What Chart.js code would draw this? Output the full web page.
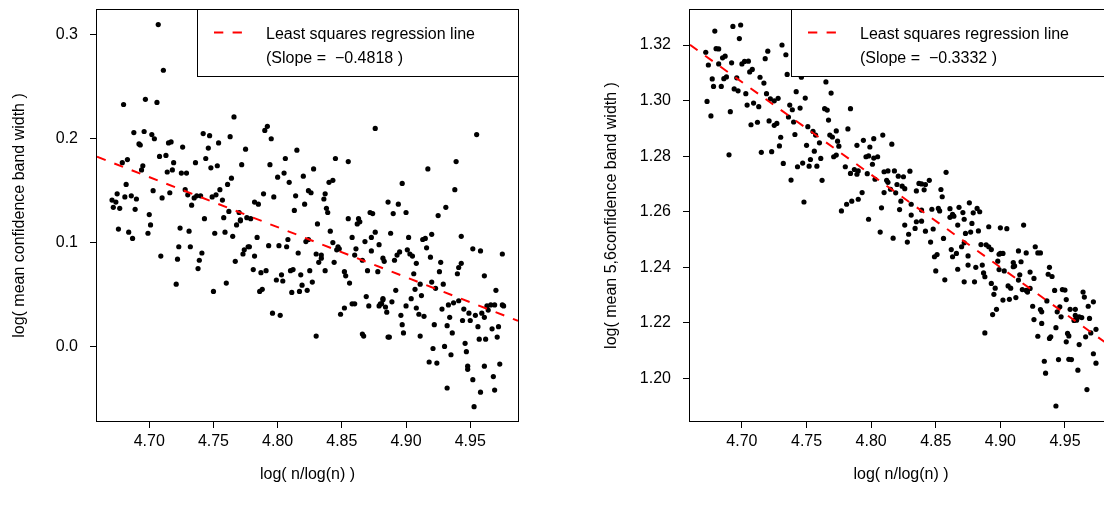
<!DOCTYPE html>
<html><head><meta charset="utf-8">
<script src="https://cdn.jsdelivr.net/npm/chart.js@4/dist/chart.umd.min.js"></script>
<style>
html,body{margin:0;padding:0;background:#fff;overflow:hidden;width:1104px;height:512px;}
#c1{position:absolute;left:0;top:0;}
#c2{position:absolute;left:552px;top:0;}
</style></head><body>
<canvas id="c1" width="552" height="512"></canvas>
<canvas id="c2" width="600" height="512"></canvas>
<script>
// ---------- data ----------
const xTickValues = [4.70, 4.75, 4.80, 4.85, 4.90, 4.95];
const leftYTicks = [0.0, 0.1, 0.2, 0.3];
const rightYTicks = [1.20, 1.22, 1.24, 1.26, 1.28, 1.30, 1.32];
const xTitle = "log( n/log(n) )";
const leftYTitle = "log( mean confidence band width )";
const rightYTitle = "log( mean 5,6confidence band width )";
const legendLine1 = "Least squares regression line";
const leftSlopeText = "(Slope =  \u22120.4818 )";
const rightSlopeText = "(Slope =  \u22120.3332 )";
const leftSlope = -0.4818, leftIntercept = 2.4275;
const rightSlope = -0.3332, rightIntercept = 2.8727;
const leftXRange = [4.6593, 4.9872], leftYRange = [-0.0718, 0.3240];
const rightXRange = [4.6598, 4.9864], rightYRange = [1.1847, 1.3326];

const leftPoints = [
[4.707,0.310],[4.711,0.266],[4.680,0.233],[4.697,0.238],[4.706,0.235],[4.766,0.221],[4.688,0.206],[4.696,0.207],[4.702,0.204],[4.704,0.200],
[4.692,0.195],[4.693,0.194],[4.715,0.196],[4.717,0.197],[4.726,0.192],[4.742,0.205],[4.747,0.203],[4.746,0.191],[4.754,0.196],[4.763,0.202],
[4.775,0.190],[4.683,0.180],[4.679,0.177],[4.708,0.183],[4.713,0.184],[4.719,0.177],[4.736,0.177],[4.744,0.181],[4.695,0.174],[4.694,0.170],
[4.714,0.168],[4.718,0.170],[4.725,0.167],[4.729,0.167],[4.748,0.172],[4.753,0.174],[4.772,0.175],[4.764,0.162],[4.761,0.156],[4.682,0.156],
[4.675,0.147],[4.703,0.150],[4.716,0.148],[4.728,0.151],[4.681,0.144],[4.686,0.145],[4.690,0.142],[4.671,0.141],[4.674,0.139],[4.672,0.134],
[4.677,0.133],[4.689,0.132],[4.700,0.127],[4.710,0.143],[4.730,0.146],[4.733,0.136],[4.735,0.143],[4.737,0.145],[4.740,0.145],[4.749,0.144],
[4.752,0.146],[4.755,0.151],[4.757,0.141],[4.743,0.123],[4.758,0.124],[4.762,0.130],[4.770,0.129],[4.776,0.124],[4.771,0.122],
[4.676,0.113],[4.684,0.110],[4.687,0.104],[4.699,0.109],[4.701,0.117],[4.724,0.114],[4.731,0.111],[4.723,0.096],[4.732,0.096],[4.709,0.087],
[4.722,0.084],[4.741,0.090],[4.739,0.083],[4.738,0.075],[4.721,0.060],[4.750,0.053],[4.760,0.061],[4.751,0.109],[4.759,0.110],[4.765,0.106],
[4.768,0.117],[4.771,0.121],[4.777,0.096],[4.774,0.093],[4.773,0.089],[4.767,0.082],
[4.792,0.212],[4.790,0.208],[4.795,0.200],[4.876,0.210],[4.815,0.189],[4.806,0.181],[4.794,0.175],[4.845,0.181],[4.855,0.178],[4.805,0.167],
[4.800,0.163],[4.809,0.158],[4.820,0.164],[4.828,0.171],[4.843,0.160],[4.840,0.158],[4.789,0.147],[4.797,0.144],[4.782,0.139],[4.785,0.137],
[4.814,0.145],[4.824,0.150],[4.826,0.148],[4.837,0.147],[4.836,0.142],[4.821,0.137],[4.813,0.131],[4.838,0.133],[4.839,0.129],[4.872,0.129],
[4.874,0.128],[4.886,0.139],[4.855,0.123],[4.863,0.123],
[4.831,0.118],[4.862,0.118],[4.864,0.120],[4.779,0.123],[4.784,0.105],[4.778,0.096],[4.782,0.087],[4.793,0.097],[4.801,0.097],[4.807,0.096],
[4.808,0.103],[4.816,0.090],[4.822,0.101],[4.824,0.103],[4.830,0.089],[4.834,0.088],[4.834,0.085],[4.832,0.081],[4.841,0.111],[4.843,0.100],
[4.847,0.096],[4.848,0.094],[4.846,0.093],[4.844,0.081],[4.858,0.105],[4.861,0.094],[4.860,0.088],[4.868,0.101],[4.873,0.105],[4.876,0.110],
[4.873,0.092],[4.879,0.098],[4.882,0.085],[4.883,0.082],[4.866,0.083],[4.781,0.074],[4.787,0.071],[4.791,0.073],[4.799,0.064],[4.803,0.069],
[4.804,0.063],[4.810,0.073],[4.812,0.074],[4.818,0.069],[4.819,0.059],[4.817,0.053],[4.811,0.052],[4.823,0.054],[4.827,0.062],[4.825,0.073],
[4.837,0.073],[4.852,0.072],[4.853,0.068],[4.856,0.061],[4.870,0.073],[4.878,0.072],[4.786,0.053],[4.788,0.055],[4.796,0.032],[4.802,0.030],
[4.830,0.010],[4.849,0.031],[4.852,0.037],[4.858,0.041],[4.860,0.041],[4.869,0.048],[4.871,0.039],[4.866,0.012],[4.867,0.010],[4.879,0.039],
[4.880,0.041],[4.882,0.046],[4.886,0.009],
[4.955,0.204],[4.939,0.178],[4.917,0.171],[4.897,0.157],[4.938,0.151],[4.894,0.137],[4.890,0.128],[4.900,0.129],[4.931,0.134],[4.925,0.126],
[4.888,0.109],[4.902,0.105],[4.913,0.103],[4.915,0.104],[4.920,0.108],[4.943,0.106],[4.901,0.093],[4.903,0.089],[4.905,0.087],[4.908,0.080],
[4.916,0.095],[4.919,0.086],[4.891,0.083],[4.893,0.088],[4.895,0.091],[4.927,0.081],[4.926,0.072],[4.952,0.094],[4.958,0.092],[4.975,0.089],
[4.943,0.080],[4.941,0.076],[4.940,0.070],[4.961,0.068],[4.906,0.070],[4.911,0.060],[4.907,0.055],[4.920,0.062],[4.923,0.056],[4.929,0.060],
[4.892,0.054],[4.904,0.046],[4.912,0.049],[4.882,0.045],[4.881,0.041],[4.884,0.038],[4.885,0.033],[4.889,0.043],[4.900,0.039],[4.896,0.030],
[4.908,0.037],[4.910,0.031],[4.914,0.029],[4.897,0.021],[4.898,0.013],[4.887,0.009],[4.911,0.010],[4.922,0.021],[4.932,0.020],[4.934,0.028],
[4.936,0.013],[4.928,0.036],[4.933,0.040],[4.937,0.042],[4.941,0.044],[4.945,0.036],[4.944,0.025],[4.949,0.032],[4.950,0.025],[4.954,0.030],
[4.956,0.019],[4.959,0.032],[4.961,0.028],[4.963,0.039],[4.964,0.035],[4.966,0.040],[4.969,0.040],[4.975,0.040],[4.976,0.039],[4.970,0.054],
[4.967,0.017],[4.972,0.019],[4.971,0.009],[4.957,0.007],[4.962,0.007],[4.921,-0.002],[4.930,0.000],[4.935,-0.008],[4.946,0.003],[4.947,-0.005],
[4.918,-0.015],[4.924,-0.016],[4.948,-0.022],[4.948,-0.019],[4.961,-0.019],[4.973,-0.017],[4.952,-0.032],[4.968,-0.029],[4.932,-0.040],[4.958,-0.044],
[4.969,-0.042],[4.953,-0.058]
];

const rightPoints = [
[4.679,1.3250],[4.693,1.3267],[4.699,1.3272],[4.698,1.3223],[4.672,1.3174],[4.674,1.3128],[4.680,1.3187],[4.682,1.3186],[4.685,1.3154],[4.687,1.3160],
[4.682,1.3132],[4.692,1.3136],[4.700,1.3132],[4.702,1.3141],[4.705,1.3142],[4.720,1.3178],[4.718,1.3151],[4.731,1.3200],[4.734,1.3165],[4.735,1.3094],
[4.746,1.3084],[4.677,1.3078],[4.678,1.3051],[4.684,1.3051],[4.686,1.3079],[4.688,1.3085],[4.696,1.3082],[4.706,1.3103],[4.708,1.3112],[4.714,1.3084],
[4.717,1.3063],[4.694,1.3042],[4.697,1.3035],[4.703,1.3025],[4.719,1.3025],[4.722,1.3006],[4.725,1.2999],[4.728,1.3008],[4.742,1.3032],[4.749,1.3009],
[4.673,1.2997],[4.676,1.2945],[4.691,1.2960],[4.704,1.2984],[4.709,1.2991],[4.713,1.2978],[4.737,1.2984],[4.739,1.2967],[4.745,1.2973],[4.736,1.2941],
[4.707,1.2913],[4.712,1.2922],[4.721,1.2927],[4.725,1.2911],[4.727,1.2918],[4.740,1.2923],[4.751,1.2906],[4.755,1.2889],[4.757,1.2876],[4.730,1.2868],
[4.741,1.2878],[4.729,1.2837],[4.760,1.2848],[4.750,1.2839],[4.756,1.2818],[4.690,1.2805],[4.715,1.2814],[4.723,1.2816],[4.761,1.2792],[4.753,1.2788],
[4.732,1.2774],[4.743,1.2762],[4.747,1.2775],[4.752,1.2764],[4.758,1.2764],[4.738,1.2714],[4.762,1.2713],[4.748,1.2635],
[4.765,1.3067],[4.769,1.3027],[4.764,1.2971],[4.766,1.2966],[4.784,1.2971],[4.767,1.2930],[4.782,1.2898],[4.773,1.2891],[4.768,1.2876],[4.770,1.2869],
[4.774,1.2854],[4.775,1.2836],[4.773,1.2804],[4.771,1.2798],[4.789,1.2839],[4.794,1.2857],[4.799,1.2833],[4.802,1.2863],[4.809,1.2876],[4.816,1.2843],
[4.780,1.2762],[4.796,1.2798],[4.798,1.2801],[4.802,1.2793],[4.805,1.2798],[4.801,1.2771],[4.784,1.2738],[4.787,1.2752],[4.790,1.2747],[4.789,1.2735],
[4.797,1.2737],[4.803,1.2717],[4.810,1.2744],[4.813,1.2747],[4.818,1.2747],[4.812,1.2713],[4.813,1.2706],[4.821,1.2728],[4.825,1.2726],[4.830,1.2746],
[4.820,1.2698],[4.824,1.2692],[4.826,1.2683],[4.810,1.2669],[4.815,1.2681],[4.819,1.2668],[4.837,1.2702],[4.839,1.2700],[4.842,1.2698],[4.845,1.2713],
[4.835,1.2675],[4.841,1.2679],[4.854,1.2680],[4.855,1.2654],[4.858,1.2742],[4.793,1.2669],[4.790,1.2645],[4.785,1.2638],[4.781,1.2627],[4.777,1.2603],
[4.798,1.2573],[4.823,1.2638],[4.822,1.2608],[4.831,1.2627],[4.831,1.2588],[4.839,1.2606],[4.847,1.2609],[4.852,1.2612],[4.853,1.2603],[4.861,1.2611],
[4.864,1.2584],[4.868,1.2616],
[4.808,1.2614],[4.807,1.2527],[4.817,1.2505],[4.826,1.2552],[4.829,1.2519],[4.828,1.2491],[4.835,1.2564],[4.839,1.2566],[4.834,1.2540],[4.842,1.2530],
[4.846,1.2491],[4.848,1.2538],[4.856,1.2504],[4.863,1.2591],[4.861,1.2580],[4.867,1.2552],[4.849,1.2438],[4.851,1.2446],[4.862,1.2464],[4.863,1.2438],
[4.866,1.2450],[4.850,1.2387],[4.867,1.2393],[4.857,1.2355],
[4.871,1.2597],[4.872,1.2573],[4.876,1.2632],[4.879,1.2596],[4.882,1.2612],[4.884,1.2600],[4.878,1.2558],[4.873,1.2522],[4.877,1.2527],[4.883,1.2531],
[4.891,1.2546],[4.900,1.2542],[4.905,1.2539],[4.918,1.2552],[4.870,1.2474],[4.872,1.2488],[4.875,1.2441],[4.875,1.2408],[4.872,1.2348],[4.880,1.2348],
[4.881,1.2400],[4.886,1.2408],[4.885,1.2482],[4.889,1.2481],[4.891,1.2474],[4.893,1.2464],[4.887,1.2380],[4.888,1.2366],[4.893,1.2342],[4.895,1.2303],
[4.896,1.2325],[4.894,1.2230],[4.897,1.2249],[4.888,1.2164],[4.899,1.2447],[4.900,1.2450],[4.902,1.2450],[4.898,1.2422],[4.899,1.2392],[4.903,1.2387],
[4.906,1.2333],[4.908,1.2325],[4.902,1.2282],[4.907,1.2285],[4.912,1.2291],[4.910,1.2417],[4.911,1.2405],[4.910,1.2402],[4.916,1.2420],[4.914,1.2459],
[4.920,1.2452],[4.915,1.2373],[4.914,1.2354],[4.917,1.2320],[4.920,1.2317],[4.921,1.2311],[4.923,1.2324],[4.926,1.2360],[4.923,1.2383],[4.927,1.2474],
[4.929,1.2452],[4.931,1.2452],[4.925,1.2260],[4.926,1.2212],[4.929,1.2152],[4.931,1.2248],[4.932,1.2240],[4.932,1.2198],[4.938,1.2400],[4.937,1.2375],
[4.940,1.2367],[4.942,1.2317],[4.936,1.2279],[4.943,1.2183],[4.939,1.2150],[4.938,1.2144],[4.934,1.2062],[4.935,1.2019],[4.945,1.2068],[4.943,1.1901],
[4.948,1.2320],[4.950,1.2318],[4.951,1.2284],[4.946,1.2258],[4.944,1.2240],[4.947,1.2222],[4.952,1.2162],[4.953,1.2153],[4.951,1.2132],[4.953,1.2069],
[4.955,1.2068],[4.954,1.2249],[4.958,1.2249],[4.958,1.2227],[4.961,1.2222],[4.963,1.2219],[4.957,1.2209],[4.959,1.2210],[4.960,1.2030],[4.964,1.2311],
[4.965,1.2293],[4.968,1.2260],[4.972,1.2276],[4.969,1.2216],[4.974,1.2177],[4.970,1.2164],[4.966,1.2150],[4.961,1.2122],[4.972,1.2089],[4.974,1.2055],
[4.967,1.1960]
];

// ---------- drawing ----------
const FONT = '"Liberation Sans", Arial, Helvetica, sans-serif';

const rFrame = {
  id: 'rFrame',
  afterDraw(chart, args, o) {
    const ctx = chart.ctx, a = chart.chartArea;
    ctx.save();
    // plot box
    ctx.strokeStyle = '#000'; ctx.lineWidth = 1; ctx.setLineDash([]);
    ctx.strokeRect(a.left - 0.5, a.top - 0.5, a.right - a.left + 1, a.bottom - a.top + 1);
    // legend
    const bw = 320, bh = 67;
    const bx = a.right - bw, by = a.top;
    ctx.fillStyle = '#fff';
    ctx.fillRect(bx, by, bw, bh);
    ctx.strokeRect(bx - 0.5, by - 0.5, bw + 1, bh);
    ctx.strokeStyle = '#ff0000'; ctx.lineWidth = 2; ctx.setLineDash([9.3, 9.3]);
    ctx.beginPath(); ctx.moveTo(bx + 16, by + 22.5); ctx.lineTo(bx + 44, by + 22.5); ctx.stroke();
    ctx.setLineDash([]);
    ctx.fillStyle = '#000';
    ctx.font = '16px ' + FONT;
    ctx.textAlign = 'left'; ctx.textBaseline = 'alphabetic';
    ctx.fillText(legendLine1, bx + 68, by + 29);
    ctx.fillText(o.slopeText, bx + 68, by + 52.5);
    // axis titles
    ctx.textAlign = 'center'; ctx.textBaseline = 'middle';
    ctx.fillText(xTitle, (a.left + a.right) / 2, 475);
    ctx.translate(o.yTitleX, (a.top + a.bottom) / 2);
    ctx.rotate(-Math.PI / 2);
    ctx.fillText(o.yTitle, 0, 0);
    ctx.restore();
  }
};

function makePanel(id, pts, slope, intercept, xr, yr, yTicks, yDec, yTitle, slopeText, yAxisWidth, padRight, yTitleX) {
  const lineData = [xr[0], xr[1]].map(x => ({x: x, y: intercept + slope * x}));
  const tickFont = {family: FONT, size: 16};
  new Chart(document.getElementById(id), {
    type: 'scatter',
    data: {
      datasets: [
        {type: 'line', data: lineData, borderColor: '#ff0000', borderWidth: 2, borderDash: [9.3, 9.3],
         pointRadius: 0, fill: false, order: 0},
        {type: 'scatter', data: pts.map(p => ({x: p[0], y: p[1]})), pointRadius: 2.6, pointHoverRadius: 2.6,
         backgroundColor: '#000', borderColor: '#000', borderWidth: 0, order: 1}
      ]
    },
    options: {
      responsive: false, animation: false, devicePixelRatio: 1,
      layout: {padding: {top: 10, right: padRight, left: 0, bottom: 0}},
      plugins: {legend: {display: false}, tooltip: {enabled: false}, rFrame: {yTitle: yTitle, slopeText: slopeText, yTitleX: yTitleX}},
      scales: {
        x: {
          type: 'linear', min: xr[0], max: xr[1],
          afterBuildTicks: s => { s.ticks = xTickValues.map(v => ({value: v})); },
          afterFit: s => { s.height = 91; s.paddingLeft = 0; s.paddingRight = 0; },
          grid: {drawOnChartArea: false, drawTicks: true, tickLength: 7, color: '#000', lineWidth: 1},
          border: {display: false},
          ticks: {autoSkip: false, maxRotation: 0, color: '#000', font: tickFont, padding: 4,
                  callback: v => Number(v).toFixed(2)}
        },
        y: {
          type: 'linear', min: yr[0], max: yr[1],
          afterBuildTicks: s => { s.ticks = yTicks.map(v => ({value: v})); },
          afterFit: s => { s.width = yAxisWidth; s.paddingTop = 0; s.paddingBottom = 0; },
          grid: {drawOnChartArea: false, drawTicks: true, tickLength: 7, color: '#000', lineWidth: 1},
          border: {display: false},
          ticks: {autoSkip: false, color: '#000', font: tickFont, padding: 12,
                  callback: v => Number(v).toFixed(yDec)}
        }
      }
    },
    plugins: [rFrame]
  });
}

makePanel('c1', leftPoints, leftSlope, leftIntercept, leftXRange, leftYRange, leftYTicks, 1, leftYTitle, leftSlopeText, 97, 34, 20);
makePanel('c2', rightPoints, rightSlope, rightIntercept, rightXRange, rightYRange, rightYTicks, 2, rightYTitle, rightSlopeText, 138, 40, 60);
</script>
</body></html>
